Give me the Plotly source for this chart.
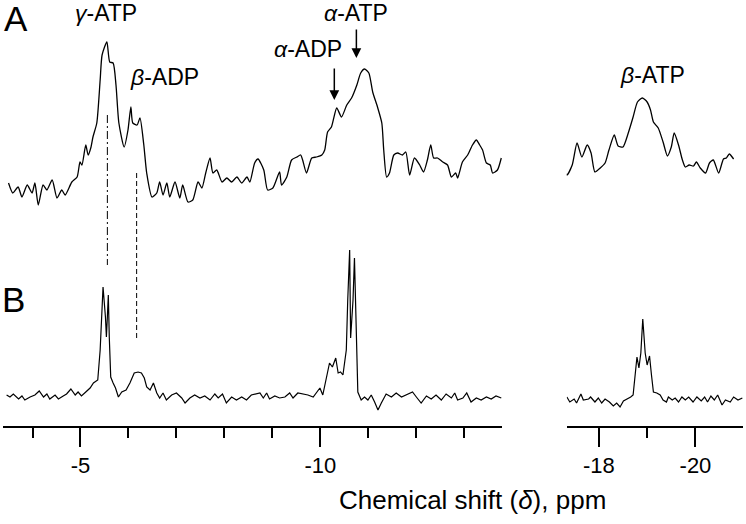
import plotly.graph_objects as go

# ---------------- data (chemical shift in ppm, intensity in arbitrary units) ----------------
# Spectrum A, left window
A_left_ppm = [-3.50, -3.59, -3.70, -3.78, -3.89, -3.99, -4.05, -4.12, -4.22, -4.30, -4.41, -4.51, -4.61, -4.68,
              -4.82, -4.93, -4.99, -5.03, -5.11, -5.16, -5.22, -5.26, -5.34, -5.41, -5.45, -5.55, -5.61, -5.68,
              -5.74, -5.80, -5.91, -5.99, -6.05, -6.09, -6.18, -6.24, -6.32, -6.38, -6.49, -6.59, -6.65, -6.72,
              -6.80, -6.86, -6.97, -7.07, -7.13, -7.24, -7.34, -7.45, -7.53, -7.61, -7.70, -7.76, -7.84, -7.95,
              -8.05, -8.15, -8.26, -8.36, -8.47, -8.53, -8.63, -8.70, -8.82, -8.90, -9.01, -9.15, -9.19, -9.30,
              -9.40, -9.51, -9.59, -9.63, -9.71, -9.82, -9.92, -10.03, -10.09, -10.15, -10.23, -10.34, -10.44,
              -10.55, -10.65, -10.76, -10.84, -10.92, -11.01, -11.09, -11.19, -11.28, -11.32, -11.38, -11.44,
              -11.53, -11.61, -11.71, -11.78, -11.86, -11.96, -12.07, -12.15, -12.23, -12.30, -12.36, -12.44,
              -12.55, -12.65, -12.73, -12.82, -12.86, -12.96, -13.07, -13.17, -13.25, -13.32, -13.38, -13.46,
              -13.54, -13.59, -13.69, -13.77]
A_left_int = [2, -8, -2, -12, 0, -8, 2, -20, 0, -5, 5, -13, -5, -10,
              3, 8, 23, 20, 40, 30, 38, 48, 62, 105, 130, 143, 123, 122,
              100, 62, 38, 55, 78, 62, 60, 67, 40, 12, -12, -8, 3, -10,
              2, -12, 3, -13, 0, -17, -15, 3, -3, 12, 27, 12, 15, 3,
              7, 3, 8, 2, 8, 3, 22, 26, 15, -5, -3, 13, 0, 8,
              25, 28, 30, 25, 12, 27, 28, 30, 35, 53, 58, 77, 68,
              80, 87, 100, 112, 116, 112, 93, 78, 62, 35, 8, 12,
              30, 32, 30, 33, 10, 27, 20, 13, 25, 40, 27, 27,
              23, 20, 8, 12, 7, 23, 30, 40, 45, 40, 35, 22,
              20, 12, 15, 27]

# Spectrum A, right window
A_right_ppm = [-17.20, -17.26, -17.34, -17.45, -17.55, -17.65, -17.76, -17.84, -17.92, -18.03, -18.13, -18.21,
               -18.32, -18.40, -18.50, -18.61, -18.71, -18.80, -18.90, -19.00, -19.07, -19.13, -19.23, -19.33,
               -19.42, -19.50, -19.56, -19.65, -19.73, -19.79, -19.87, -19.96, -20.02, -20.10, -20.21, -20.29,
               -20.37, -20.48, -20.58, -20.64, -20.70, -20.79]
A_right_int = [12, 14, 10, 20, 42, 28, 40, 32, 13, 17, 22, 35,
               50, 39, 38, 52, 68, 83, 87, 83, 75, 63, 57, 43,
               29, 38, 52, 40, 25, 18, 20, 19, 23, 17, 12, 22,
               25, 12, 26, 27, 31, 26]

# Spectrum B, left window
B_left_ppm = [-3.46, -3.53, -3.60, -3.71, -3.78, -3.84, -3.95, -4.05, -4.14, -4.23, -4.30, -4.36, -4.47, -4.54,
              -4.64, -4.71, -4.80, -4.89, -4.95, -5.02, -5.11, -5.20, -5.27, -5.36, -5.41, -5.44, -5.47, -5.52,
              -5.54, -5.56, -5.58, -5.60, -5.63, -5.68, -5.73, -5.79, -5.86, -5.95, -6.03, -6.12, -6.20, -6.27,
              -6.33, -6.38, -6.45, -6.52, -6.59, -6.65, -6.72, -6.79, -6.90, -7.00, -7.11, -7.18, -7.28, -7.38,
              -7.49, -7.59, -7.70, -7.80, -7.87, -7.96, -8.04, -8.15, -8.25, -8.36, -8.46, -8.56, -8.74, -8.81,
              -8.88, -8.94, -9.05, -9.15, -9.26, -9.36, -9.43, -9.53, -9.64, -9.74, -9.85, -9.92, -9.99, -10.05,
              -10.12, -10.19, -10.25, -10.32, -10.37, -10.42, -10.47, -10.54, -10.57, -10.61, -10.63, -10.68,
              -10.71, -10.75, -10.78, -10.85, -10.92, -10.99, -11.06, -11.13, -11.20, -11.27, -11.37, -11.48,
              -11.58, -11.69, -11.79, -11.92, -12.00, -12.10, -12.21, -12.31, -12.41, -12.52, -12.62, -12.73,
              -12.80, -12.86, -12.97, -13.05, -13.14, -13.25, -13.35, -13.46, -13.56, -13.66, -13.77]
B_left_int = [3, 1, 4, -1, 2, -2, 1, 3, 7, 1, 4, -1, 3, -1,
              2, 4, 9, 3, 6, 2, 6, 10, 15, 18, 48, 81, 111, 81,
              61, 81, 103, 61, 21, 15, 10, 1, 6, 8, 15, 25, 26, 25,
              20, 11, 8, 15, 5, 0, 5, -2, 3, 5, 0, -5, 0, 3,
              0, 2, -2, 4, 0, 4, -5, 1, -2, 1, -2, 3, 5, 0,
              5, -1, 2, 0, 1, 5, 0, 5, 4, 3, 1, 5, 10, 3,
              20, 35, 31, 40, 25, 26, 23, 48, 98, 148, 60, 98,
              140, 58, 6, -2, 1, -2, 3, -4, -12, -5, 4, 1,
              5, 1, 3, 6, 1, -5, 2, -1, 3, -2, 4, 0,
              5, -2, 0, 5, -4, 0, -2, 1, -1, 2, 0]

# Spectrum B, right window
B_right_ppm = [-17.34, -17.40, -17.49, -17.54, -17.63, -17.68, -17.79, -17.83, -17.92, -17.99, -18.06, -18.13,
               -18.22, -18.30, -18.37, -18.44, -18.51, -18.59, -18.66, -18.71, -18.75, -18.79, -18.83, -18.87,
               -18.91, -18.96, -19.00, -19.05, -19.09, -19.13, -19.20, -19.27, -19.33, -19.40, -19.44, -19.52,
               -19.58, -19.65, -19.72, -19.79, -19.86, -19.95, -20.03, -20.12, -20.19, -20.25, -20.32, -20.39,
               -20.46, -20.55, -20.62, -20.72, -20.79, -20.88, -20.97]
B_right_int = [1, -4, -1, -5, 4, -2, -1, 1, -4, 0, -5, -1,
               -4, -8, -5, -9, -3, -1, 1, 3, 21, 41, 30, 45,
               79, 45, 33, 42, 23, 6, 5, 3, -2, -4, 1, -2,
               0, -4, 1, -2, 1, -4, 1, -3, 1, -4, 2, -2,
               3, -7, -2, -4, 1, -2, 0]

left_ticks = [-5, -10]
left_tick_text = ["-5", "-10"]
right_ticks = [-18, -20]
right_tick_text = ["-18", "-20"]

# reference positions of the marker lines (ppm)
gamma_atp_ppm = -5.56
beta_adp_ppm = -6.17
alpha_adp_ppm = -10.29
alpha_atp_ppm = -10.75

# ---------------- figure ----------------
FONT = "Liberation Sans, Arial, Helvetica, sans-serif"
W, H = 746, 524
lineA = dict(color="black", width=1.3, shape="spline", smoothing=0.6)
lineB = dict(color="black", width=1.2)

fig = go.Figure()
fig.add_trace(go.Scatter(x=A_left_ppm, y=A_left_int, xaxis="x", yaxis="y2", mode="lines", line=lineA,
                         showlegend=False, hoverinfo="skip"))
fig.add_trace(go.Scatter(x=A_right_ppm, y=A_right_int, xaxis="x2", yaxis="y2", mode="lines", line=lineA,
                         showlegend=False, hoverinfo="skip"))
fig.add_trace(go.Scatter(x=B_left_ppm, y=B_left_int, xaxis="x", yaxis="y", mode="lines", line=lineB,
                         showlegend=False, hoverinfo="skip"))
fig.add_trace(go.Scatter(x=B_right_ppm, y=B_right_int, xaxis="x2", yaxis="y", mode="lines", line=lineB,
                         showlegend=False, hoverinfo="skip"))

axis_common = dict(
    showline=True, linecolor="black", linewidth=1.5, mirror=False,
    ticks="outside", ticklen=19, tickwidth=1.5, tickcolor="black",
    showgrid=False, zeroline=False, tickmode="array",
    tickfont=dict(family=FONT, size=22, color="black"),
    minor=dict(ticks="outside", ticklen=10, tickwidth=1.5, tickcolor="black",
               tickmode="linear", tick0=0, dtick=1, showgrid=False),
    fixedrange=True,
)

fig.update_layout(
    width=W, height=H,
    margin=dict(l=0, r=0, t=0, b=98),
    paper_bgcolor="white", plot_bgcolor="white",
    xaxis=dict(domain=[3 / W, 502 / W], range=[-3.385, -13.785], anchor="y",
               tickvals=left_ticks, ticktext=left_tick_text, **axis_common),
    xaxis2=dict(domain=[566.7 / W, 743.3 / W], range=[-17.336, -20.99], anchor="y",
                tickvals=right_ticks, ticktext=right_tick_text, **axis_common),
    yaxis=dict(range=[-28, 398], visible=False, domain=[0, 1], fixedrange=True),
    yaxis2=dict(range=[-241, 185], visible=False, overlaying="y", fixedrange=True),
)

def py(ypx):
    return (426 - ypx) / 426

# vertical marker lines
fig.add_shape(type="line", xref="x", yref="paper", x0=gamma_atp_ppm, x1=gamma_atp_ppm,
              y0=py(115), y1=py(265), line=dict(color="black", width=1, dash="8px,3px,2px,3px"))
fig.add_shape(type="line", xref="x", yref="paper", x0=beta_adp_ppm, x1=beta_adp_ppm,
              y0=py(173), y1=py(338), line=dict(color="black", width=1, dash="5px,3px"))

texts = [
    ("A", 16, 19, 35),
    ("B", 13, 299, 35),
    ("<i>γ</i>-ATP", 106, 13, 23),
    ("<i>β</i>-ADP", 164, 77, 23),
    ("<i>α</i>-ADP", 308, 49, 23),
    ("<i>α</i>-ATP", 356, 13, 23),
    ("<i>β</i>-ATP", 652, 75, 23),
    ("Chemical shift (<i>δ</i>), ppm", 472, 500, 26),
]
for t, xp, yp, s in texts:
    fig.add_annotation(text=t, xref="paper", yref="paper", x=xp / W, y=py(yp),
                       xanchor="center", yanchor="middle", showarrow=False,
                       font=dict(family=FONT, size=s, color="black"))

# arrows
for xppm, ytip, ytail in [(alpha_adp_ppm, 100, 67), (alpha_atp_ppm, 58, 28)]:
    fig.add_annotation(x=xppm, xref="x", y=py(ytip), yref="paper", ax=0, ay=-(ytip - ytail),
                       showarrow=True, arrowhead=2, arrowsize=1.3, arrowwidth=1.5,
                       arrowcolor="black", text="", standoff=0)

fig.write_html("out.html", config={"displayModeBar": False},
               post_script="document.body.style.margin='0';document.body.style.padding='0';"
                           "document.body.style.overflow='hidden';")
